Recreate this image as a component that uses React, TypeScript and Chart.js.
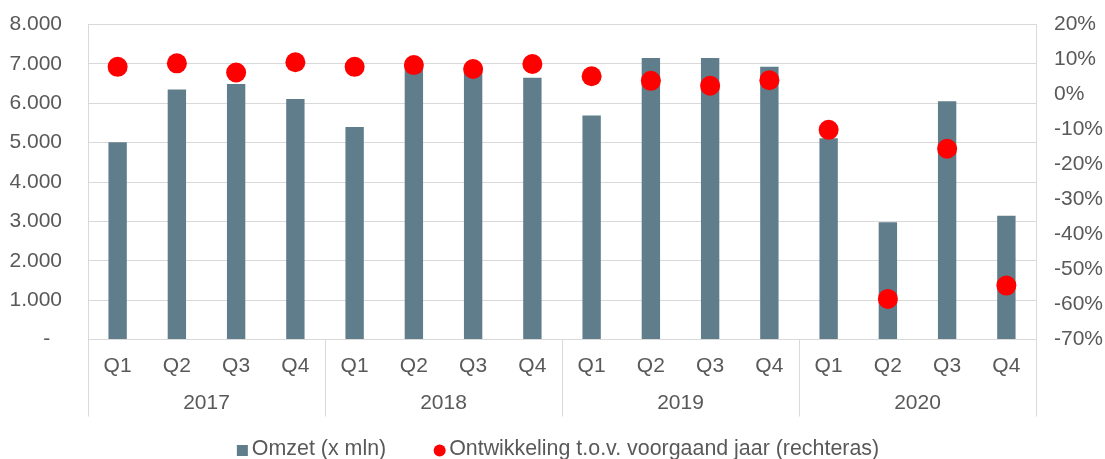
import React, { useEffect, useRef } from 'react';
import { Chart, registerables } from 'chart.js';

Chart.register(...registerables);

const quarters = ['Q1', 'Q2', 'Q3', 'Q4', 'Q1', 'Q2', 'Q3', 'Q4', 'Q1', 'Q2', 'Q3', 'Q4', 'Q1', 'Q2', 'Q3', 'Q4'];
const years = ['2017', '2018', '2019', '2020'];
const omzet = [5010, 6350, 6490, 6110, 5400, 7000, 6940, 6650, 5690, 7150, 7150, 6930, 5110, 2980, 6050, 3140];
const ontwikkeling = [7.9, 8.9, 6.3, 9.2, 7.9, 8.4, 7.3, 8.7, 5.2, 3.9, 2.5, 4.1, -10.1, -58.4, -15.5, -54.6];
const seriesNames = ['Omzet (x mln)', 'Ontwikkeling t.o.v. voorgaand jaar (rechteras)'];

const TEXT = '#595959';
const GRID = '#d9d9d9';
const BAR = '#607D8B';
const DOT = '#FF0000';
const FAMILY = '"Liberation Sans", Arial, sans-serif';
const FONT = { family: FAMILY, size: 21 };
const LEGEND_FONT_SIZE = 21.4;

function formatThousands(v: number): string {
  if (v === 0) return '-  ';
  const s = String(Math.round(v));
  return s.replace(/\B(?=(\d{3})+(?!\d))/g, '.');
}

const yearSeparators = {
  id: 'yearSeparators',
  afterDraw(chart: any) {
    const x = chart.scales.x;
    const area = chart.chartArea;
    const ctx = chart.ctx;
    const n = quarters.length;
    const per = n / years.length;
    const positions: number[] = [area.left];
    for (let k = 1; k < years.length; k++) {
      const a = x.getPixelForValue(k * per - 1);
      const b = x.getPixelForValue(k * per);
      positions.push((a + b) / 2);
    }
    positions.push(area.right);
    ctx.save();
    ctx.strokeStyle = GRID;
    ctx.lineWidth = 1;
    positions.forEach((p) => {
      const px = Math.round(p) + 0.5;
      ctx.beginPath();
      ctx.moveTo(px, area.bottom);
      ctx.lineTo(px, area.bottom + 77);
      ctx.stroke();
    });
    ctx.restore();
  },
};

// Legend drawn from the chart's own datasets (label, colour, point style)
const bottomLegend = {
  id: 'bottomLegend',
  afterDraw(chart: any) {
    const ctx = chart.ctx;
    const area = chart.chartArea;
    const datasets = chart.data.datasets;
    const markerSize = 11;
    const markerGap = 4;
    const itemGap = 48;
    ctx.save();
    ctx.font = `${LEGEND_FONT_SIZE}px ${FAMILY}`;
    ctx.textBaseline = 'middle';
    ctx.textAlign = 'left';
    const widths = datasets.map((d: any) => markerSize + markerGap + ctx.measureText(d.label).width);
    const total = widths.reduce((a: number, b: number) => a + b, 0) + itemGap * (datasets.length - 1);
    let x = (area.left + area.right) / 2 - 4 - total / 2;
    const y = chart.height - 9.5;
    datasets.forEach((d: any, i: number) => {
      ctx.fillStyle = d.backgroundColor;
      if (d.pointStyle === 'circle') {
        ctx.beginPath();
        ctx.arc(x + markerSize / 2, y + 1, markerSize / 2 + 0.5, 0, Math.PI * 2);
        ctx.fill();
      } else {
        ctx.fillRect(x, y + 1 - markerSize / 2, markerSize, markerSize);
      }
      ctx.fillStyle = TEXT;
      ctx.fillText(d.label, x + markerSize + markerGap, y);
      x += widths[i] + itemGap;
    });
    ctx.restore();
  },
};

export default function App() {
  const ref = useRef<HTMLCanvasElement | null>(null);

  useEffect(() => {
    if (!ref.current) return;
    const chart = new Chart(ref.current, {
      type: 'bar',
      data: {
        labels: quarters,
        datasets: [
          {
            type: 'bar',
            label: seriesNames[0],
            data: omzet,
            backgroundColor: BAR,
            borderWidth: 0,
            barPercentage: 0.31,
            categoryPercentage: 1,
            yAxisID: 'y',
            xAxisID: 'x',
            order: 2,
            pointStyle: 'rect',
          } as any,
          {
            type: 'line',
            label: seriesNames[1],
            data: ontwikkeling,
            showLine: false,
            pointRadius: 10,
            pointHoverRadius: 10,
            pointBackgroundColor: DOT,
            pointBorderWidth: 0,
            backgroundColor: DOT,
            borderColor: DOT,
            pointStyle: 'circle',
            yAxisID: 'y2',
            xAxisID: 'x',
            order: 1,
          } as any,
        ],
      },
      options: {
        animation: false,
        responsive: true,
        maintainAspectRatio: false,
        layout: { padding: { top: 24.5, left: 0, right: 0, bottom: 30 } },
        plugins: {
          tooltip: { enabled: false },
          legend: { display: false },
        },
        scales: {
          x: {
            type: 'category',
            position: 'bottom',
            weight: 0,
            offset: true,
            grid: { display: false, drawTicks: false, tickLength: 0 },
            border: { display: true, color: GRID, width: 1 },
            ticks: { color: TEXT, font: FONT, padding: 14, autoSkip: false, maxRotation: 0 },
            afterFit: (s: any) => { s.height = 48; },
          },
          x2: {
            type: 'category',
            position: 'bottom',
            weight: 1,
            labels: years,
            offset: true,
            grid: { display: false, drawTicks: false, tickLength: 0 },
            border: { display: false },
            ticks: { color: TEXT, font: FONT, padding: 3, autoSkip: false, maxRotation: 0 },
            afterFit: (s: any) => { s.height = 41.5; },
          },
          y: {
            type: 'linear',
            position: 'left',
            min: 0,
            max: 8000,
            grid: { color: GRID, lineWidth: 1, drawTicks: true, tickLength: 26, tickColor: 'rgba(0,0,0,0)' },
            border: { display: true, color: GRID, width: 1 },
            ticks: {
              stepSize: 1000,
              color: TEXT,
              font: FONT,
              padding: 0,
              callback: (v: any) => formatThousands(Number(v)),
            },
            afterFit: (s: any) => { s.width = 88; },
          },
          y2: {
            type: 'linear',
            position: 'right',
            min: -70,
            max: 20,
            grid: { drawOnChartArea: false, drawTicks: true, tickLength: 18, tickColor: 'rgba(0,0,0,0)' },
            border: { display: true, color: GRID, width: 1 },
            ticks: {
              stepSize: 10,
              color: TEXT,
              font: FONT,
              padding: 0,
              callback: (v: any) => `${v}%`,
            },
            afterFit: (s: any) => { s.width = 69; },
          },
        },
      } as any,
      plugins: [yearSeparators, bottomLegend],
    });
    return () => chart.destroy();
  }, []);

  return (
    <div style={{ position: 'fixed', left: 0, top: 0, width: 1105, height: 459, background: '#fff' }}>
      <canvas ref={ref} />
    </div>
  );
}
